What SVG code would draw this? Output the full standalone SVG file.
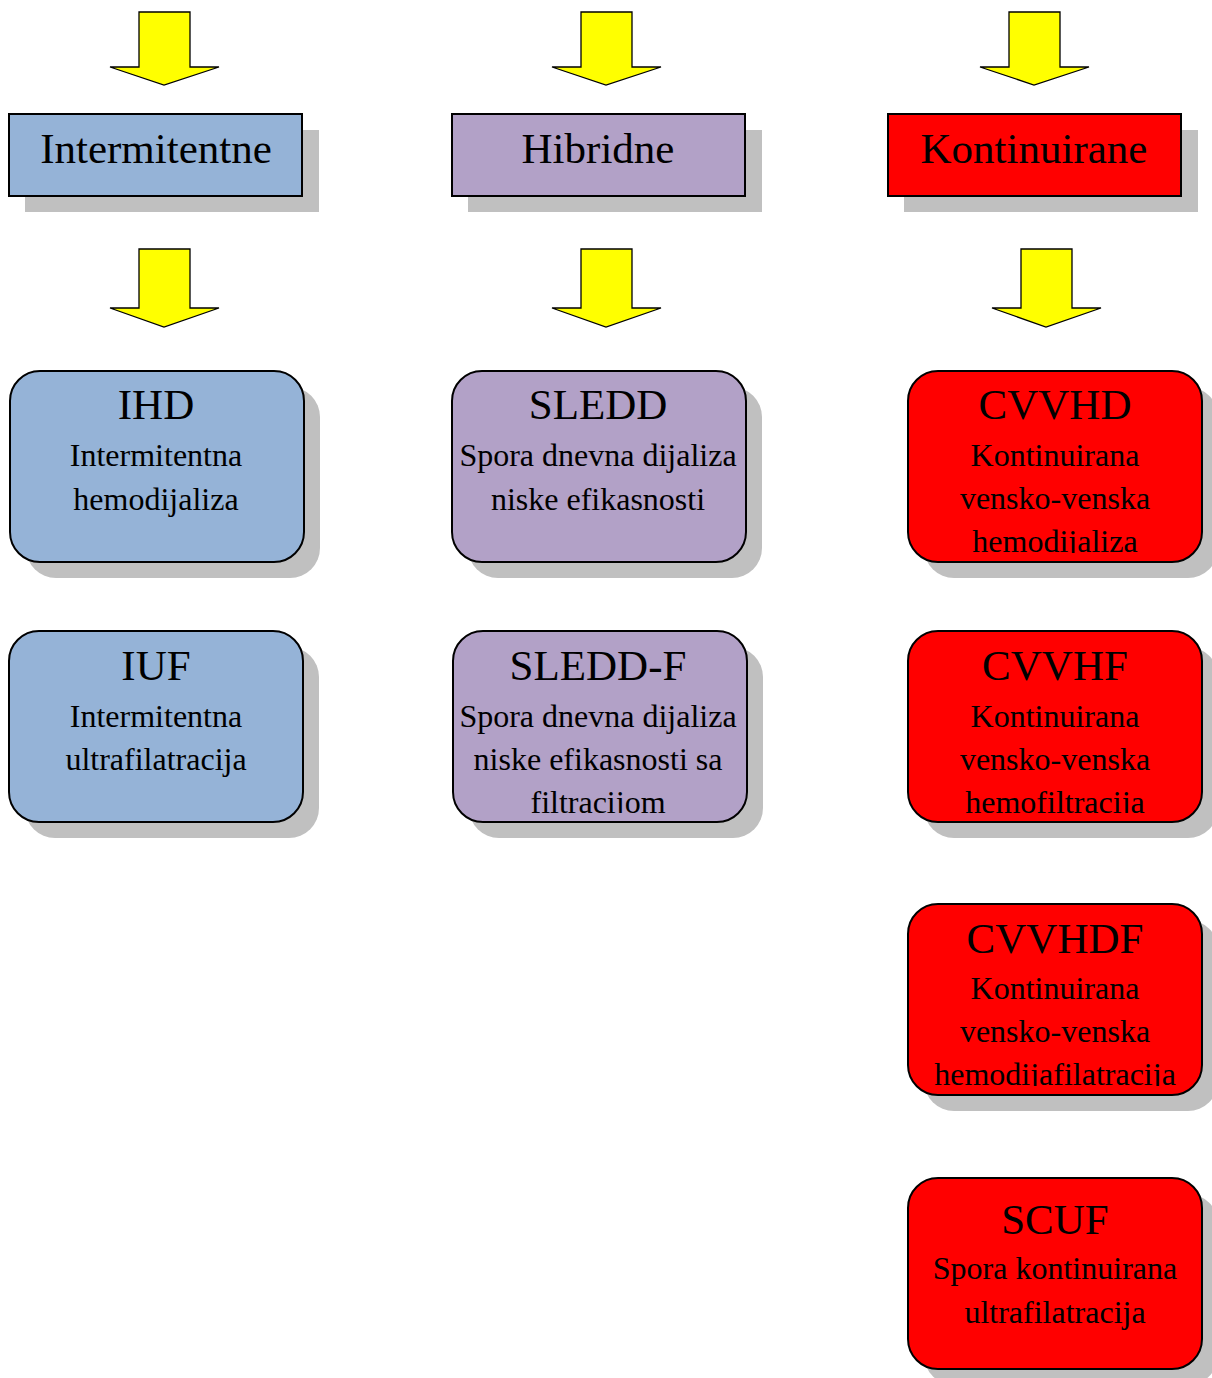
<svg xmlns="http://www.w3.org/2000/svg" width="1212" height="1378" viewBox="0 0 1212 1378">
<style>
.arrow{fill:#FFFF00;stroke:#000;stroke-width:1.3}
.shadow{fill:#C0C0C0}
.box{stroke:#000;stroke-width:2}
.blue{fill:#95B3D7}
.purple{fill:#B2A1C7}
.red{fill:#FF0000}
text{font-family:"Liberation Serif","Times New Roman",serif;fill:#000;text-anchor:middle}
.hd{font-size:43px}
.tt{font-size:43px}
.st{font-size:32px}
</style>
<defs>
<clipPath id="c1"><rect x="10" y="371" width="294" height="182"/></clipPath>
<clipPath id="c2"><rect x="9" y="631" width="294" height="182"/></clipPath>
<clipPath id="c3"><rect x="452" y="371" width="294" height="182"/></clipPath>
<clipPath id="c4"><rect x="453" y="631" width="294" height="182"/></clipPath>
<clipPath id="c5"><rect x="908" y="371" width="294" height="182"/></clipPath>
<clipPath id="c6"><rect x="908" y="631" width="294" height="182"/></clipPath>
<clipPath id="c7"><rect x="908" y="904" width="294" height="182"/></clipPath>
<clipPath id="c8"><rect x="908" y="1178" width="294" height="182"/></clipPath>
</defs>
<rect width="1212" height="1378" fill="#fff"/>
<g id="connectors">
<path class="arrow" d="M139,12 H190 V67 H219 L164,85 L110,67 H139 Z"/>
<path class="arrow" d="M581,12 H632 V67 H661 L606,85 L552,67 H581 Z"/>
<path class="arrow" d="M1009,12 H1060 V67 H1089 L1034,85 L980,67 H1009 Z"/>
<path class="arrow" d="M139,249 H190 V308 H219 L164,327 L110,308 H139 Z"/>
<path class="arrow" d="M581,249 H632 V308 H661 L606,327 L552,308 H581 Z"/>
<path class="arrow" d="M1021,249 H1072 V308 H1101 L1046,327 L992,308 H1021 Z"/>
</g>
<g id="intermitentne">
<rect class="shadow" x="25" y="130" width="294" height="82"/>
<rect class="box blue" x="9" y="114" width="293" height="82"/>
<text class="hd" x="156" y="163">Intermitentne</text>
</g>
<g id="hibridne">
<rect class="shadow" x="468" y="130" width="294" height="82"/>
<rect class="box purple" x="452" y="114" width="293" height="82"/>
<text class="hd" x="598" y="163">Hibridne</text>
</g>
<g id="kontinuirane">
<rect class="shadow" x="904" y="130" width="294" height="82"/>
<rect class="box red" x="888" y="114" width="293" height="82"/>
<text class="hd" x="1034" y="163">Kontinuirane</text>
</g>
<g id="ihd">
<rect class="shadow" x="26" y="387" width="294" height="191" rx="30"/>
<rect class="box blue" x="10" y="371" width="294" height="191" rx="30"/>
<g clip-path="url(#c1)">
<text class="tt" x="156" y="419">IHD</text>
<text class="st" x="156" y="466">Intermitentna</text>
<text class="st" x="156" y="510">hemodijaliza</text>
</g>
</g>
<g id="iuf">
<rect class="shadow" x="25" y="647" width="294" height="191" rx="30"/>
<rect class="box blue" x="9" y="631" width="294" height="191" rx="30"/>
<g clip-path="url(#c2)">
<text class="tt" x="156" y="680">IUF</text>
<text class="st" x="156" y="727">Intermitentna</text>
<text class="st" x="156" y="770">ultrafilatracija</text>
</g>
</g>
<g id="sledd">
<rect class="shadow" x="468" y="387" width="294" height="191" rx="30"/>
<rect class="box purple" x="452" y="371" width="294" height="191" rx="30"/>
<g clip-path="url(#c3)">
<text class="tt" x="598" y="419">SLEDD</text>
<text class="st" x="598" y="466">Spora dnevna dijaliza</text>
<text class="st" x="598" y="510">niske efikasnosti</text>
</g>
</g>
<g id="sledd-f">
<rect class="shadow" x="469" y="647" width="294" height="191" rx="30"/>
<rect class="box purple" x="453" y="631" width="294" height="191" rx="30"/>
<g clip-path="url(#c4)">
<text class="tt" x="598" y="680">SLEDD-F</text>
<text class="st" x="598" y="727">Spora dnevna dijaliza</text>
<text class="st" x="598" y="770">niske efikasnosti sa</text>
<text class="st" x="598" y="813">filtracijom</text>
</g>
</g>
<g id="cvvhd">
<rect class="shadow" x="924" y="387" width="294" height="191" rx="30"/>
<rect class="box red" x="908" y="371" width="294" height="191" rx="30"/>
<g clip-path="url(#c5)">
<text class="tt" x="1055" y="419">CVVHD</text>
<text class="st" x="1055" y="466">Kontinuirana</text>
<text class="st" x="1055" y="509">vensko-venska</text>
<text class="st" x="1055" y="552">hemodijaliza</text>
</g>
</g>
<g id="cvvhf">
<rect class="shadow" x="924" y="647" width="294" height="191" rx="30"/>
<rect class="box red" x="908" y="631" width="294" height="191" rx="30"/>
<g clip-path="url(#c6)">
<text class="tt" x="1055" y="680">CVVHF</text>
<text class="st" x="1055" y="727">Kontinuirana</text>
<text class="st" x="1055" y="770">vensko-venska</text>
<text class="st" x="1055" y="813">hemofiltracija</text>
</g>
</g>
<g id="cvvhdf">
<rect class="shadow" x="924" y="920" width="294" height="191" rx="30"/>
<rect class="box red" x="908" y="904" width="294" height="191" rx="30"/>
<g clip-path="url(#c7)">
<text class="tt" x="1055" y="953">CVVHDF</text>
<text class="st" x="1055" y="999">Kontinuirana</text>
<text class="st" x="1055" y="1042">vensko-venska</text>
<text class="st" x="1055" y="1085">hemodijafilatracija</text>
</g>
</g>
<g id="scuf">
<rect class="shadow" x="924" y="1194" width="294" height="191" rx="30"/>
<rect class="box red" x="908" y="1178" width="294" height="191" rx="30"/>
<g clip-path="url(#c8)">
<text class="tt" x="1055" y="1234">SCUF</text>
<text class="st" x="1055" y="1279">Spora kontinuirana</text>
<text class="st" x="1055" y="1323">ultrafilatracija</text>
</g>
</g>
</svg>
